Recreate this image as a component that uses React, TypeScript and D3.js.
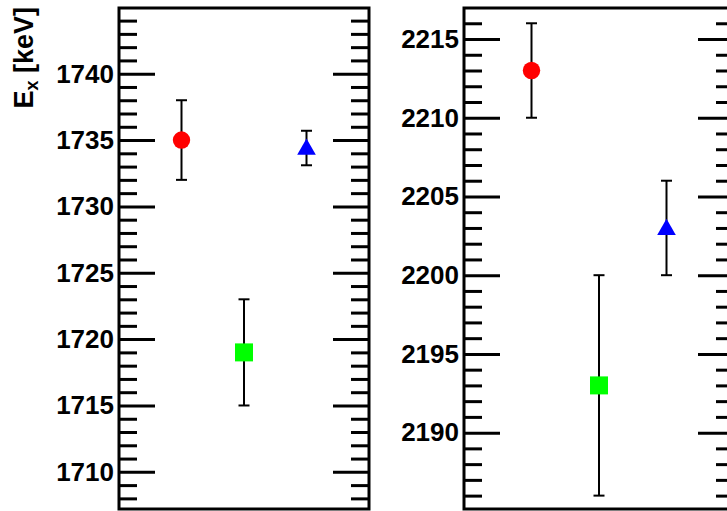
import React, { useEffect, useRef } from "react";
import * as d3 from "d3";

// one panel per level, three measurements each
const methods = ["A", "B", "C"];
const colors = ["#ff0000", "#00ff00", "#0000ff"];
const shapes = ["circle", "square", "triangle"];

const leftValues = [1735, 1719, 1734.3];
const leftLow = [1732, 1715, 1733.1];
const leftHigh = [1738, 1723, 1735.7];
const leftTicks = [1710, 1715, 1720, 1725, 1730, 1735, 1740];

const rightValues = [2213, 2193, 2202.9];
const rightLow = [2210, 2186, 2200];
const rightHigh = [2216, 2200, 2206];
const rightTicks = [2190, 2195, 2200, 2205, 2210, 2215];

const FONT = "'Liberation Sans', Arial, Helvetica, sans-serif";

const App = () => {
  const svgRef = useRef<SVGSVGElement>(null);

  useEffect(() => {
    const svg = d3.select(svgRef.current);
    svg.selectAll("*").remove();

    const panels = [
      {
        x0: 119, x1: 369, domain: [1707.2, 1744.95],
        values: leftValues, low: leftLow, high: leftHigh, ticks: leftTicks,
      },
      {
        x0: 464, x1: 734, domain: [2185.15, 2216.97],
        values: rightValues, low: rightLow, high: rightHigh, ticks: rightTicks,
      },
    ];
    const top = 8;
    const bottom = 509;

    panels.forEach((p) => {
      const x = d3.scalePoint().domain(methods).range([p.x0, p.x1]).padding(1);
      const y = d3.scaleLinear().domain(p.domain).range([bottom, top]);
      const minor = d3.range(Math.ceil(p.domain[0]), Math.floor(p.domain[1]) + 1)
        .filter((v) => v % 5 !== 0);

      const g = svg.append("g");

      const styleAxis = (sel) => {
        sel.select(".domain").remove();
        sel.selectAll("line").attr("stroke", "#000").attr("stroke-width", 3);
        sel.selectAll("text")
          .attr("font-family", FONT)
          .attr("font-weight", "bold")
          .attr("font-size", 26)
          .attr("fill", "#000");
      };

      g.append("g")
        .attr("transform", `translate(${p.x0},0)`)
        .call(d3.axisLeft(y).tickValues(p.ticks).tickSize(-36).tickPadding(5).tickFormat(d3.format("d")))
        .call(styleAxis);
      g.append("g")
        .attr("transform", `translate(${p.x0},0)`)
        .call(d3.axisLeft(y).tickValues(minor).tickSize(-18).tickFormat(() => ""))
        .call(styleAxis);
      g.append("g")
        .attr("transform", `translate(${p.x1},0)`)
        .call(d3.axisRight(y).tickValues(p.ticks).tickSize(-36).tickFormat(() => ""))
        .call(styleAxis);
      g.append("g")
        .attr("transform", `translate(${p.x1},0)`)
        .call(d3.axisRight(y).tickValues(minor).tickSize(-18).tickFormat(() => ""))
        .call(styleAxis);

      g.append("rect")
        .attr("x", p.x0)
        .attr("y", top)
        .attr("width", p.x1 - p.x0)
        .attr("height", bottom - top)
        .attr("fill", "none")
        .attr("stroke", "#000")
        .attr("stroke-width", 3);

      // error bars
      methods.forEach((m, i) => {
        const cx = x(m);
        const eg = g.append("g").attr("stroke", "#000").attr("stroke-width", 2);
        eg.append("line").attr("x1", cx).attr("x2", cx).attr("y1", y(p.low[i])).attr("y2", y(p.high[i]));
        [p.low[i], p.high[i]].forEach((v) => {
          eg.append("line").attr("x1", cx - 5.5).attr("x2", cx + 5.5).attr("y1", y(v)).attr("y2", y(v));
        });
      });

      // markers
      methods.forEach((m, i) => {
        const cx = x(m);
        const cy = y(p.values[i]);
        const type = shapes[i] === "circle" ? d3.symbolCircle
          : shapes[i] === "square" ? d3.symbolSquare : d3.symbolTriangle;
        const size = shapes[i] === "circle" ? Math.PI * 8.7 * 8.7
          : shapes[i] === "square" ? 18 * 18 : 150;
        g.append("path")
          .attr("transform", `translate(${cx},${cy})`)
          .attr("d", d3.symbol().type(type).size(size)())
          .attr("fill", colors[i]);
      });
    });

    const title = svg.append("text")
      .attr("transform", "translate(33,7) rotate(-90)")
      .attr("text-anchor", "end")
      .attr("font-family", FONT)
      .attr("font-weight", "bold")
      .attr("font-size", 27)
      .attr("fill", "#000");
    title.append("tspan").text("E");
    title.append("tspan").attr("font-size", 18).attr("dy", 5).text("x");
    title.append("tspan").attr("dy", -5).text(" [keV]");
  }, []);

  return (
    <svg
      ref={svgRef}
      width={727}
      height={511}
      style={{ position: "absolute", left: 0, top: 0, background: "#fff" }}
    />
  );
};

export default App;
